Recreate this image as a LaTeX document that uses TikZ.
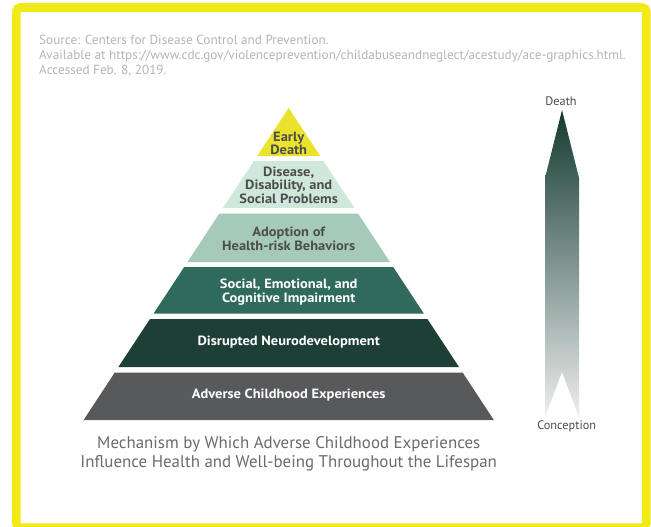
\documentclass[tikz,border=0pt]{standalone}
\usepackage{fontspec}
\setmainfont{PT Sans}
\newfontfamily\labfont[FakeStretch=1.08]{PT Sans}
\definecolor{frameY}{HTML}{F2EA16}
\definecolor{layA}{HTML}{EAE22C}
\definecolor{layB}{HTML}{D0E8DC}
\definecolor{layC}{HTML}{A5CABA}
\definecolor{layD}{HTML}{2F6A5D}
\definecolor{layE}{HTML}{1E3F36}
\definecolor{layF}{HTML}{58595B}
\definecolor{srcgray}{HTML}{B5B5B5}
\definecolor{darktext}{HTML}{4D4D4F}
\definecolor{capgray}{HTML}{6A6B6D}
\definecolor{arrTop}{HTML}{143A30}
\definecolor{arrMid}{HTML}{7D8281}
\definecolor{arrBot}{HTML}{ECEEEE}
\tikzset{
  srctext/.style={anchor=base west, inner sep=0, text=srcgray, font=\fontsize{13.2}{15}\selectfont},
  laylabel/.style={align=center, inner sep=0, font=\labfont\bfseries\fontsize{13.4}{13.6}\selectfont},
  darklab/.style={laylabel, text=darktext},
  lightlab/.style={laylabel, text=white},
  captext/.style={inner sep=0, text=capgray, font=\fontsize{16.9}{19}\selectfont},
  arrlab/.style={inner sep=0, text=darktext, font=\fontsize{12.3}{14}\selectfont}
}
\begin{document}
\begin{tikzpicture}[x=1pt,y=-1pt]
\useasboundingbox (0,0) rectangle (651,527);
\fill[white] (0,0) rectangle (651,527);
\begin{scope}
\clip (0,0) rectangle (651,527);
\draw[frameY, line width=8.6, rounded corners=4] (16.4,7.5) rectangle (646.2,527.6);
\end{scope}
% source text
\node[srctext] (src1) at (39,45) {Source: Centers for Disease Control and Prevention.};
\node[srctext] (src2) at (39,60) {Available at https://www.cdc.gov/violenceprevention/childabuseandneglect/acestudy/ace-graphics.html.};
\node[srctext] (src3) at (39,75) {Accessed Feb. 8, 2019.};
% pyramid layers
\fill[layA] (288.7,108) -- (320.2,156) -- (257.2,156) -- cycle;
\fill[layB] (253.9,161) -- (323.5,161) -- (354.4,208) -- (223.0,208) -- cycle;
\fill[layC] (219.4,213.5) -- (358.0,213.5) -- (389.9,262) -- (187.5,262) -- cycle;
\fill[layD] (184.2,267) -- (393.2,267) -- (423.8,313.5) -- (153.6,313.5) -- cycle;
\fill[layE] (150.0,319) -- (427.4,319) -- (459.0,367) -- (118.4,367) -- cycle;
\fill[layF] (114.8,372.5) -- (462.6,372.5) -- (493.8,420) -- (83.6,420) -- cycle;
\node[darklab] (l1) at (288.7,143.4) {Early\\Death};
\node[darklab] (l2) at (288.7,185.3) {Disease,\\Disability, and\\Social Problems};
\node[darklab,font=\labfont\bfseries\fontsize{13.4}{14}\selectfont] (l3) at (288.7,238.7) {Adoption of\\Health-risk Behaviors};
\node[lightlab,font=\labfont\bfseries\fontsize{13.4}{14.3}\selectfont] (l4) at (288.7,292.2) {Social, Emotional, and\\Cognitive Impairment};
\node[lightlab] (l5) at (288.7,342.3) {Disrupted Neurodevelopment};
\node[lightlab] (l6) at (288.7,395) {Adverse Childhood Experiences};
% caption
\node[captext] (cap1) at (288.7,444) {Mechanism by Which Adverse Childhood Experiences};
\node[captext] (cap2) at (288.7,463.3) {Influence Health and Well-being Throughout the Lifespan};
% lifespan arrow
\shade[top color=arrTop, middle color=arrMid, bottom color=arrBot]
  (562,110) -- (579,178) -- (579,417) -- (562,372) -- (545,417) -- (545,178) -- cycle;
\node[arrlab] (death) at (561,101.5) {Death};
\node[arrlab] (concep) at (566.7,426) {Conception};
\end{tikzpicture}
\end{document}
